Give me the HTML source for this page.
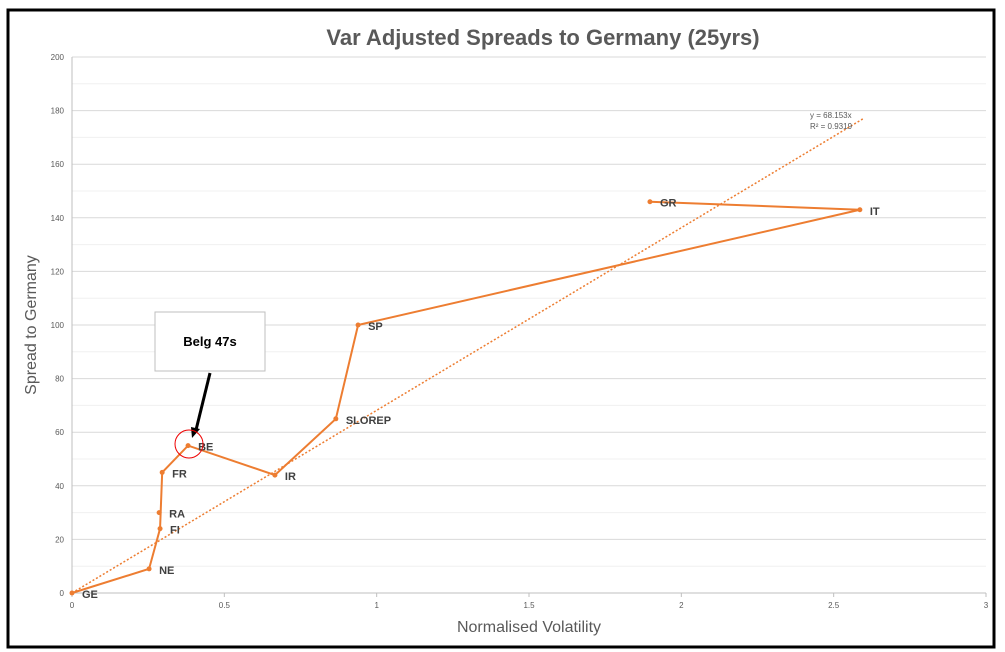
<!DOCTYPE html>
<html><head><meta charset="utf-8"><style>
body{margin:0;width:1005px;height:652px;background:#fff;overflow:hidden;font-family:"Liberation Sans",sans-serif;}
svg{position:absolute;left:0;top:0}
</style></head><body>
<svg id="c" width="1005" height="652">
  <rect x="8" y="10" width="986" height="637" fill="#fff" stroke="#000" stroke-width="3"/>
  <text x="543" y="45" text-anchor="middle" font-size="22" font-weight="bold" fill="#595959">Var Adjusted Spreads to Germany (25yrs)</text>
  <g id="grid"></g><g id="axes"></g><g id="trend"></g><g id="series"></g>
  <text x="529" y="632" text-anchor="middle" font-size="16" fill="#595959">Normalised Volatility</text>
  <text transform="translate(36,325) rotate(-90)" text-anchor="middle" font-size="16" fill="#595959">Spread to Germany</text>
  <text x="810" y="118" font-size="8" fill="#595959">y = 68.153x</text>
  <text x="810" y="129" font-size="8" fill="#595959">R² = 0.9319</text>
  <rect x="155" y="312" width="110" height="59" fill="#fff" stroke="#bfbfbf"/>
  <text x="210" y="346" text-anchor="middle" font-size="13" font-weight="bold" fill="#000">Belg 47s</text>
  <line x1="210" y1="373" x2="196" y2="430" stroke="#000" stroke-width="3"/>
  <polygon points="192,438 191,427 200,429" fill="#000"/>
  <circle cx="189" cy="444" r="14" fill="none" stroke="#e00" stroke-width="1"/>
</svg>
<script>
const labels=["GE","NE","FI","FR","BE","IR","SLOREP","SP","IT","GR"];
const xs=[0,0.253,0.289,0.296,0.381,0.666,0.866,0.939,2.586,1.897];
const ys=[0,9,24,45,55,44,65,100,143,146];
const extraLabels=["RA"];
const extraX=[0.286];
const extraY=[30];
const xTicks=[0,0.5,1,1.5,2,2.5,3];
const xTickLabels=["0","0.5","1","1.5","2","2.5","3"];
const yTicks=[0,20,40,60,80,100,120,140,160,180,200];
const slope=[68.153];
const trendMaxX=[2.6];
const X0=72,X1=986,Y0=593,Y1=57;
const sx=v=>X0+(v-0)/3*(X1-X0);
const sy=v=>Y0-(v/200)*(Y0-Y1);
const NS="http://www.w3.org/2000/svg";
function mk(p,t,a){const e=document.createElementNS(NS,t);for(const k in a)e.setAttribute(k,a[k]);p.appendChild(e);return e;}
const grid=document.getElementById('grid'),axes=document.getElementById('axes'),trend=document.getElementById('trend'),ser=document.getElementById('series');
for(let v=10;v<=200;v+=10){const l=mk(grid,'line',{x1:X0,x2:X1,y1:sy(v),y2:sy(v),stroke:v%20?'#f0f0f0':'#d9d9d9','stroke-width':1});

}
const xa=mk(axes,'line',{x1:X0,x2:X1,y1:Y0,y2:Y0,stroke:'#bfbfbf'});


const ya=mk(axes,'line',{x1:X0,x2:X0,y1:Y0,y2:Y1,stroke:'#bfbfbf'});


yTicks.forEach(v=>{const t=mk(axes,'text',{x:X0-8,y:sy(v)+3,'text-anchor':'end','font-size':8,fill:'#595959'});t.textContent=v;

});
xTicks.forEach((v,i)=>{const t=mk(axes,'text',{x:sx(v),y:Y0+15,'text-anchor':'middle','font-size':8,fill:'#595959'});t.textContent=xTickLabels[i];


const k=mk(axes,'line',{x1:sx(v),x2:sx(v),y1:Y0,y2:Y0+4,stroke:'#bfbfbf'});

});
const tl=mk(trend,'line',{x1:sx(0),y1:sy(0),x2:sx(trendMaxX[0]),y2:sy(slope[0]*trendMaxX[0]),stroke:'#ed7d31','stroke-width':1.5,'stroke-dasharray':'2,2'});


const pl=mk(ser,'polyline',{points:xs.map((x,i)=>sx(x)+','+sy(ys[i])).join(' '),fill:'none',stroke:'#ed7d31','stroke-width':2});


function pt(x,y,lab){const c=mk(ser,'circle',{cx:sx(x),cy:sy(y),r:2.5,fill:'#ed7d31'});


const t=mk(ser,'text',{x:sx(x)+10,y:sy(y)+5,'font-size':11,'font-weight':'bold',fill:'#404040'});t.textContent=lab;

}
xs.forEach((x,i)=>pt(x,ys[i],labels[i]));
extraX.forEach((x,i)=>pt(x,extraY[i],extraLabels[i]));
</script>
</body></html>
